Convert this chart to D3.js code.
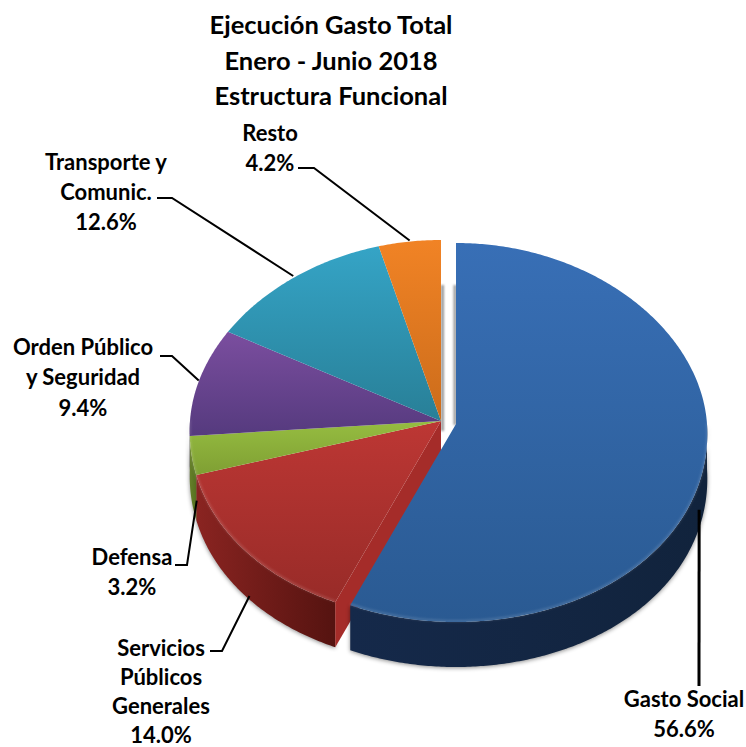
<!DOCTYPE html>
<html>
<head>
    <meta charset="utf-8">
    <title>Ejecución Gasto Total</title>
    <script src="https://d3js.org/d3.v7.min.js"></script>
    <style>
        html, body { margin: 0; padding: 0; background: #ffffff; }
        svg { display: block; }
        text { font-family: Lato, 'Open Sans', sans-serif; font-weight: 700; fill: #000; text-anchor: middle; }
        .title { font-size: 25.5px; }
        .label { font-size: 22px; }
        .leader { fill: none; stroke: #000; }
    </style>
</head>
<body>
    <div id="chart"></div>

    <script>
        // data, clockwise from 12 o'clock
        const categories = ["Gasto Social", "Servicios Públicos Generales", "Defensa", "Orden Público y Seguridad", "Transporte y Comunic.", "Resto"];
        const shares = [56.6, 14.0, 3.2, 9.4, 12.6, 4.2];
        const titleLines = ["Ejecución Gasto Total", "Enero - Junio 2018", "Estructura Funcional"];
        const labelLines = [
            ["Gasto Social"],
            ["Servicios", "Públicos", "Generales"],
            ["Defensa"],
            ["Orden Público", "y Seguridad"],
            ["Transporte y", "Comunic."],
            ["Resto"]
        ];

        const width = 746, height = 747;
        const cx = 441, cy = 421, depth = 45;

        // the 3D look: the near half of the disc is a bit taller and wider than the far half
        const rimX = d3.scaleLinear().domain([-1, 1]).range([cx - 251, cx + 251]);
        const rimY = d3.scaleLinear().domain([-1, 0, 1]).range([cy - 181, cy, cy + 198]);

        const styles = [
            {top: ["#386fb6", "#2a5a92"], wall: ["#15294a", "#11233c"], explode: [15, 3]},
            {top: ["#bd3734", "#982b28"], wall: ["#8a2421", "#551310"], explode: [0, 0]},
            {top: ["#96bd41", "#7f9f33"], wall: ["#66802a", "#55701f"], explode: [0, 0]},
            {top: ["#7b4e9f", "#553a7e"], wall: ["#3d2a5c", "#3d2a5c"], explode: [0, 0]},
            {top: ["#35a4c6", "#287f97"], wall: ["#1d5f70", "#1d5f70"], explode: [0, 0]},
            {top: ["#f18325", "#cb6c1b"], wall: ["#a0520f", "#a0520f"], explode: [0, 0]}
        ];

        // label placing: centre x, first baseline, line height, and the leader's elbow/start
        const labelPos = [
            {x: 684, y: 707, step: 30.3, lead: [[699, 686]], nudge: [-5, 0]},
            {x: 161, y: 656, step: 29, lead: [[210, 651], [222, 651]], nudge: [4, 0]},
            {x: 132, y: 565, step: 30.3, lead: [[175, 565], [187, 565]], nudge: [5, 0]},
            {x: 83, y: 355, step: 30.3, lead: [[160, 356], [172, 356]], nudge: [0, -1]},
            {x: 106, y: 170, step: 30, lead: [[157, 198], [172, 198]], nudge: [0, -2]},
            {x: 270, y: 141, step: 30.3, lead: [[298, 168], [314, 168]], nudge: [0, -1]}
        ];

        const svg = d3.select("#chart").append("svg")
            .attr("width", width)
            .attr("height", height);

        const defs = svg.append("defs");
        const blur = defs.append("filter").attr("id", "soft")
            .attr("filterUnits", "userSpaceOnUse")
            .attr("x", 0).attr("y", 0).attr("width", width).attr("height", height);
        blur.append("feGaussianBlur").attr("stdDeviation", 1.1);

        styles.forEach(function(s, i) {
            const top = defs.append("linearGradient").attr("id", "top" + i)
                .attr("x1", 0).attr("y1", 0).attr("x2", 0).attr("y2", 1);
            top.append("stop").attr("offset", 0).attr("stop-color", s.top[0]);
            top.append("stop").attr("offset", 1).attr("stop-color", s.top[1]);
            const wall = defs.append("linearGradient").attr("id", "wall" + i)
                .attr("x1", 0).attr("y1", 0).attr("x2", 1).attr("y2", 0);
            wall.append("stop").attr("offset", 0).attr("stop-color", s.wall[0]);
            wall.append("stop").attr("offset", 1).attr("stop-color", s.wall[1]);
        });

        const pie = d3.pie().sort(null).value(d => d)(shares);

        function rim(a, off) {
            const persp = 1 - 0.05 * Math.cos(a);
            return [rimX(Math.sin(a) * persp) + off[0], rimY(-Math.cos(a)) + off[1]];
        }
        function arcPoints(a0, a1, off) {
            const n = Math.max(2, Math.ceil((a1 - a0) / 0.01));
            return d3.range(n + 1).map(i => rim(a0 + (a1 - a0) * i / n, off));
        }
        const line = d3.line();

        // shadows in the gap behind the pulled out slice
        const gap = svg.append("g").attr("filter", "url(#soft)");
        gap.append("line").attr("x1", cx + 1.5).attr("x2", cx + 1.5)
            .attr("y1", cy - 136).attr("y2", cy + 10)
            .attr("stroke", "#999").attr("stroke-width", 3);
        gap.append("line").attr("x1", cx + 14).attr("x2", cx + 14)
            .attr("y1", cy - 136).attr("y2", cy + 4)
            .attr("stroke", "#999").attr("stroke-width", 3);

        // outer walls, only the near half of the rim shows
        const walls = svg.append("g").style("filter", "drop-shadow(0 1px 2px rgba(0,0,0,0.45))");
        pie.forEach(function(d, i) {
            if (i === 0) return; // blue goes in with its top, in front of the red cut face
            const off = styles[i].explode;
            const a0 = Math.max(d.startAngle, Math.PI / 2);
            const a1 = Math.min(d.endAngle, Math.PI * 3 / 2);
            if (a1 <= a0) return;
            const upper = arcPoints(a0, a1, off);
            const lower = upper.map(p => [p[0], p[1] + depth]).reverse();
            walls.append("path")
                .attr("d", line(upper.concat(lower)) + "Z")
                .attr("fill", "url(#wall" + i + ")");
        });

        // cut face of the red slice, seen through the gap
        const corner = rim(pie[1].startAngle, [0, 0]);
        svg.append("path")
            .attr("d", line([[cx, cy], corner, [corner[0], corner[1] + depth], [cx, cy + depth]]) + "Z")
            .attr("fill", "#a52c29");

        // tops, blue last with its wall
        const tops = svg.append("g");
        [1, 2, 3, 4, 5, 0].forEach(function(i) {
            const d = pie[i], off = styles[i].explode;
            if (i === 0) {
                const upper = arcPoints(Math.max(d.startAngle, Math.PI / 2), d.endAngle, off);
                tops.append("path")
                    .style("filter", "drop-shadow(0 1px 2px rgba(0,0,0,0.45))")
                    .attr("d", line(upper.concat(upper.map(p => [p[0], p[1] + depth]).reverse())) + "Z")
                    .attr("fill", "url(#wall0)");
            }
            const pts = [[cx + off[0], cy + off[1]]].concat(arcPoints(d.startAngle, d.endAngle, off));
            tops.append("path")
                .attr("d", line(pts) + "Z")
                .attr("fill", "url(#top" + i + ")");
            // pale bevel along the near edge
            const a0 = Math.max(d.startAngle, Math.PI / 2);
            const a1 = Math.min(d.endAngle, Math.PI * 3 / 2);
            if (a1 > a0) {
                tops.append("path")
                    .attr("d", line(arcPoints(a0, a1, [off[0], off[1] - 1])))
                    .attr("fill", "none")
                    .attr("stroke", "rgba(255,255,255,0.15)")
                    .attr("stroke-width", 2)
                    .attr("filter", "url(#soft)");
            }
        });

        // title
        svg.append("g").selectAll("text")
            .data(titleLines)
            .enter().append("text")
            .attr("class", "title")
            .attr("x", 331)
            .attr("y", (d, i) => 34 + i * 35.5)
            .text(d => d);

        // labels and leaders
        const labels = svg.append("g");
        pie.forEach(function(d, i) {
            const pos = labelPos[i];
            const mid = (d.startAngle + d.endAngle) / 2;
            const end = rim(mid, styles[i].explode);
            const lowered = i < 3 ? depth : 0;
            const tip = [end[0] + pos.nudge[0], end[1] + lowered + pos.nudge[1]];
            labels.append("path")
                .attr("class", "leader")
                .style("stroke-width", i === 0 ? 3 : 2)
                .attr("d", line(pos.lead.concat([tip])));
            labelLines[i].concat([d3.format(".1f")(d.value) + "%"]).forEach(function(t, k) {
                labels.append("text")
                    .attr("class", "label")
                    .attr("x", pos.x)
                    .attr("y", pos.y + k * pos.step)
                    .text(t);
            });
        });
    </script>
</body>
</html>
